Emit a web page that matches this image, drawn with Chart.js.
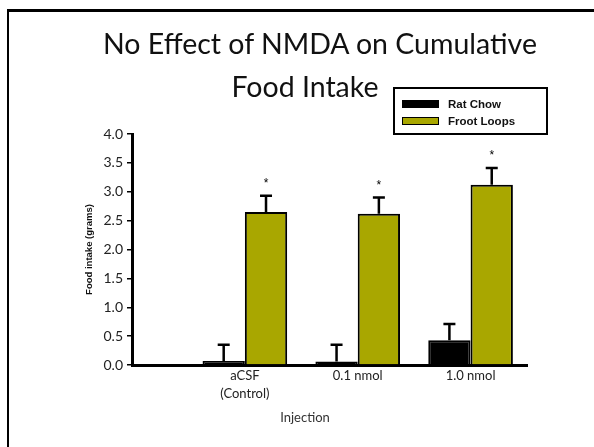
<!DOCTYPE html>
<html>
<head>
<meta charset="utf-8">
<script src="https://cdn.jsdelivr.net/npm/chart.js@4"></script>
<style>
  html, body { margin: 0; padding: 0; background: #fff; }
  #slide { position: relative; width: 594px; height: 447px; overflow: hidden; }
  #frame { position: absolute; left: 7px; top: 9px; width: 700px; height: 600px;
           border-left: 2px solid #000; border-top: 3px solid #000; }
  #chart-wrap { position: absolute; left: 0; top: 0; width: 594px; height: 447px; }
  .title { position: absolute; width: 460px; text-align: center; white-space: nowrap;
           font-family: Lato, sans-serif; font-size: 28.5px; line-height: 43px; color: #111; }
  #xtitle { position: absolute; left: 255px; top: 409px; width: 100px; text-align: center;
            font-family: Lato, sans-serif; font-size: 13px; color: #333; }
  #legend { position: absolute; left: 393px; top: 87px; width: 151px; height: 44px;
            border: 2px solid #000; font-family: "Liberation Sans", Arial, sans-serif;
            font-weight: bold; font-size: 11.5px; color: #111; }
  .item { position: absolute; left: 7px; height: 14px; line-height: 14px; }
  .sw { position: absolute; left: 0; top: 3px; width: 37px; height: 8px; box-sizing: border-box; border: 1.5px solid #000; }
  .lbl { position: absolute; left: 46px; top: 0; white-space: nowrap; }
</style>
</head>
<body>
<div id="slide">
  <div id="frame"></div>
  <div id="chart-wrap"><canvas id="food-chart"></canvas></div>
  <div class="title" style="left:90px; top:22px;">No Effect of NMDA on Cumulative</div>
  <div class="title" style="left:75px; top:65px;">Food Intake</div>
  <div id="xtitle">Injection</div>
  <div id="legend"></div>
</div>
<script>
// injection groups (x positions 1..3 on the axis, axis runs 0 - 3.5)
const categories = [["aCSF", "(Control)"], "0.1 nmol", "1.0 nmol"];
const ratChow = [0.07, 0.06, 0.43];
const ratChowErr = [0.28, 0.29, 0.28];
const frootLoops = [2.65, 2.62, 3.12];
const frootLoopsErr = [0.28, 0.28, 0.29];
const significant = [true, true, true];
const yTicks = [0, 0.5, 1, 1.5, 2, 2.5, 3, 3.5, 4];

const OLIVE = "#a9a700";

const errorBars = {
  id: "errorBars",
  afterDatasetsDraw(chart) {
    const { ctx, scales: { y } } = chart;
    ctx.save();
    chart.data.datasets.forEach((ds, i) => {
      const meta = chart.getDatasetMeta(i);
      meta.data.forEach((bar, j) => {
        const top = y.getPixelForValue(ds.data[j].y + ds.errors[j]);
        ctx.strokeStyle = "#000";
        ctx.lineWidth = 2.5;
        ctx.beginPath();
        ctx.moveTo(bar.x, bar.y);
        ctx.lineTo(bar.x, top);
        ctx.moveTo(bar.x - 6, top);
        ctx.lineTo(bar.x + 6, top);
        ctx.stroke();
        if (ds.stars && ds.stars[j]) {
          ctx.fillStyle = "#000";
          ctx.font = "12px 'Liberation Sans', Arial, sans-serif";
          ctx.textAlign = "center";
          ctx.textBaseline = "middle";
          ctx.fillText("*", bar.x, top - 12);
        }
      });
    });
    ctx.restore();
  }
};

const config = {
  type: "bar",
  data: {
    datasets: [
      {
        label: "Rat Chow",
        backgroundColor: "#000",
        borderColor: "#000",
        borderWidth: 2,
        data: ratChow.map((v, i) => ({ x: i + 1, y: v })),
        errors: ratChowErr,
      },
      {
        label: "Froot Loops",
        backgroundColor: OLIVE,
        borderColor: "#000",
        borderWidth: 2,
        data: frootLoops.map((v, i) => ({ x: i + 1, y: v })),
        errors: frootLoopsErr,
        stars: significant,
      },
    ],
  },
  options: {
    responsive: true,
    maintainAspectRatio: false,
    animation: false,
    devicePixelRatio: 1,
    categoryPercentage: 0.75,
    barPercentage: 1.0,
    layout: { padding: { left: 84, right: 67, top: 134, bottom: 19 } },
    plugins: {
      legend: { display: false },
      title: { display: false },
      tooltip: { enabled: false },
    },
    scales: {
      x: {
        type: "linear",
        offset: false,
        min: 0,
        max: 3.5,
        afterBuildTicks(scale) {
          scale.ticks = categories.map((c, i) => ({ value: i + 1 }));
        },
        afterFit(scale) { scale.height = 63; },
        grid: { display: false, drawTicks: false },
        border: { color: "#000", width: 3 },
        ticks: {
          autoSkip: false,
          maxRotation: 0,
          padding: 2,
          color: "#222",
          font: { family: "Lato", size: 13, lineHeight: 1.35 },
          callback: (v) => categories[v - 1],
        },
      },
      y: {
        min: 0,
        max: 4,
        afterBuildTicks(scale) {
          scale.ticks = yTicks.map((v) => ({ value: v }));
        },
        afterFit(scale) { scale.width = 48; },
        grid: { display: true, drawOnChartArea: false, drawTicks: true, tickLength: 5, color: "#000", lineWidth: 1.5 },
        border: { color: "#000", width: 3 },
        ticks: {
          padding: 4,
          color: "#222",
          font: { family: "Lato", size: 14 },
          callback: (v) => v.toFixed(1),
        },
        title: {
          display: true,
          text: "Food intake (grams)",
          color: "#111",
          font: { family: "'Liberation Sans', Arial, sans-serif", size: 9.5, weight: "bold" },
          padding: { top: 0, bottom: 8 },
        },
      },
    },
  },
  plugins: [errorBars],
};

const chart = new Chart(document.getElementById("food-chart").getContext("2d"), config);

// legend box built from the dataset labels
const legend = document.getElementById("legend");
chart.data.datasets.forEach((ds, i) => {
  const item = document.createElement("div");
  item.className = "item";
  item.style.top = (8 + i * 17) + "px";
  item.innerHTML = '<span class="sw" style="background:' + ds.backgroundColor + '"></span><span class="lbl"></span>';
  item.querySelector(".lbl").textContent = ds.label;
  legend.appendChild(item);
});
</script>
</body>
</html>
